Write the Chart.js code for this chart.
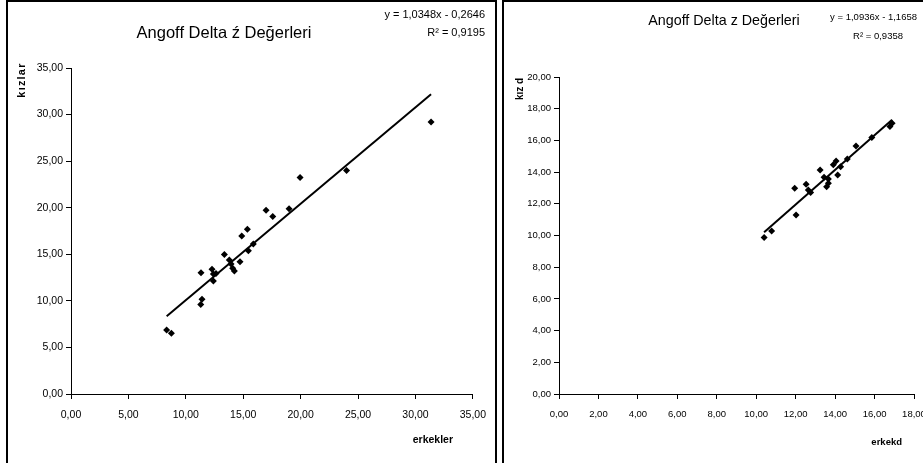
<!DOCTYPE html>
<html>
<head>
<meta charset="utf-8">
<script src="https://cdn.jsdelivr.net/npm/chart.js@4/dist/chart.umd.min.js"></script>
<style>
body { margin: 0; width: 923px; height: 463px; overflow: hidden; background: #fff; position: relative; }
.panel { position: absolute; top: 0; height: 480px; border: 2px solid #000; box-sizing: border-box; }
canvas { position: absolute; top: 2px; }
</style>
</head>
<body>
<div class="panel" style="left:6px;width:491px"></div>
<div class="panel" style="left:502px;width:460px"></div>
<canvas id="left" width="488" height="461" style="left:8px;width:488px;height:461px"></canvas>
<canvas id="right" width="440" height="461" style="left:504px;width:440px;height:461px"></canvas>
<script>
// erkekler / kizlar (delta)
const erkekler = [8.33, 8.74, 11.30, 11.41, 11.32, 12.28, 12.40, 12.63, 12.40, 13.36, 13.79, 13.94, 14.08,
    14.23, 14.72, 14.87, 15.36, 15.45, 15.88, 16.99, 17.57, 18.99, 19.95, 24.00, 31.36];
const kizlar = [6.87, 6.51, 9.62, 10.16, 13.02, 13.38, 12.88, 12.95, 12.12, 14.99, 14.38, 13.95, 13.49,
    13.20, 14.20, 16.95, 17.70, 15.38, 16.10, 19.74, 19.07, 19.90, 23.25, 24.00, 29.20];

// erkekd / kiz d (z)
const erkekd = [10.40, 10.78, 11.95, 12.02, 12.53, 12.64, 12.76, 13.24, 13.44, 13.57, 13.66, 13.66, 13.91,
    14.05, 14.13, 14.28, 14.62, 15.06, 15.86, 16.78, 16.89];
const kizd = [9.88, 10.28, 12.98, 11.29, 13.23, 12.87, 12.72, 14.13, 13.67, 13.08, 13.29, 13.56, 14.47,
    14.70, 13.82, 14.34, 14.83, 15.65, 16.19, 16.87, 17.08];

// trendlines from the printed equations
const trendLeft = { slope: 1.0348, intercept: -0.2646, r2: '0,9195' };
const trendRight = { slope: 1.0936, intercept: -1.1658, r2: '0,9358' };

const tickFont = "'Liberation Sans Narrow', 'Liberation Sans', sans-serif";
const textFont = "'Liberation Sans', Arial, sans-serif";

const fmt = v => v.toFixed(2).replace('.', ',');
const eq = t => 'y = ' + t.slope.toFixed(4).replace('.', ',') + 'x - ' + Math.abs(t.intercept).toFixed(4).replace('.', ',');

function textPlugin(items) {
    return {
        id: 'panelText',
        afterDraw(chart) {
            const ctx = chart.ctx;
            items.forEach(t => {
                ctx.save();
                ctx.font = t.font;
                ctx.fillStyle = '#000';
                ctx.textAlign = t.align || 'center';
                ctx.textBaseline = 'middle';
                if (t.spacing) ctx.letterSpacing = t.spacing;
                ctx.translate(t.x, t.y);
                if (t.rotate) ctx.rotate(t.rotate);
                ctx.fillText(t.text, 0, 0);
                ctx.restore();
            });
        }
    };
}

function makeChart(id, xs, ys, trend, cfg) {
    const pts = xs.map((x, i) => ({ x: x, y: ys[i] }));
    const x0 = Math.min(...xs), x1 = Math.max(...xs);
    const line = [x0, x1].map(x => ({ x: x, y: trend.slope * x + trend.intercept }));

    const axis = (max, step, fit) => ({
        type: 'linear',
        min: 0,
        max: max,
        afterFit: fit,
        border: { display: true, color: '#000', width: 1 },
        grid: { display: true, drawOnChartArea: false, drawTicks: true, tickLength: 5, color: '#000' },
        ticks: {
            stepSize: step,
            autoSkip: false,
            maxRotation: 0,
            color: '#000',
            padding: cfg.tickPad,
            font: { family: tickFont, size: cfg.tickSize },
            callback: v => fmt(v)
        }
    });

    const xAxis = axis(cfg.xMax, cfg.xStep, s => { s.height = cfg.xHeight; });
    xAxis.ticks.padding = cfg.xTickPad;

    return new Chart(document.getElementById(id), {
        type: 'scatter',
        data: {
            datasets: [
                {
                    data: pts,
                    pointStyle: 'rectRot',
                    pointRadius: 3.5,
                    backgroundColor: '#000',
                    borderColor: '#000',
                    borderWidth: 0
                },
                {
                    type: 'line',
                    data: line,
                    borderColor: '#000',
                    borderWidth: 2,
                    pointRadius: 0,
                    fill: false
                }
            ]
        },
        options: {
            responsive: false,
            animation: false,
            layout: { padding: { left: 0, top: cfg.padTop, right: cfg.padRight, bottom: 0 } },
            plugins: { legend: { display: false }, tooltip: { enabled: false }, title: { display: false } },
            scales: {
                x: xAxis,
                y: axis(cfg.yMax, cfg.yStep, s => { s.width = cfg.yWidth; })
            }
        },
        plugins: [textPlugin(cfg.texts)]
    });
}

makeChart('left', erkekler, kizlar, trendLeft, {
    xMax: 35, xStep: 5, yMax: 35, yStep: 5,
    padTop: 66, padRight: 23, yWidth: 63, xHeight: 69,
    tickSize: 10.5, tickPad: 3, xTickPad: 10,
    texts: [
        { text: 'Angoff Delta ź Değerleri', x: 216, y: 31, font: '16.5px ' + textFont },
        { text: eq(trendLeft), x: 477, y: 13, align: 'right', font: '11px ' + textFont },
        { text: 'R² = ' + trendLeft.r2, x: 477, y: 31, align: 'right', font: '11px ' + textFont },
        { text: 'kızlar', x: 14, y: 78, rotate: -Math.PI / 2, spacing: '1.2px', font: 'bold 11px ' + textFont },
        { text: 'erkekler', x: 445, y: 438, align: 'right', font: 'bold 10.5px ' + textFont }
    ]
});

makeChart('right', erkekd, kizd, trendRight, {
    xMax: 18, xStep: 2, yMax: 20, yStep: 2,
    padTop: 75, padRight: 30, yWidth: 55, xHeight: 69,
    tickSize: 9.5, tickPad: 3, xTickPad: 10,
    texts: [
        { text: 'Angoff Delta z Değerleri', x: 220, y: 19, font: '14.3px ' + textFont },
        { text: eq(trendRight), x: 413, y: 15, align: 'right', font: '9.5px ' + textFont },
        { text: 'R² = ' + trendRight.r2, x: 399, y: 34, align: 'right', font: '9.5px ' + textFont },
        { text: 'kız d', x: 16, y: 87, rotate: -Math.PI / 2, font: 'bold 10px ' + textFont },
        { text: 'erkekd', x: 398, y: 440, align: 'right', font: 'bold 9.5px ' + textFont }
    ]
});
</script>
</body>
</html>
